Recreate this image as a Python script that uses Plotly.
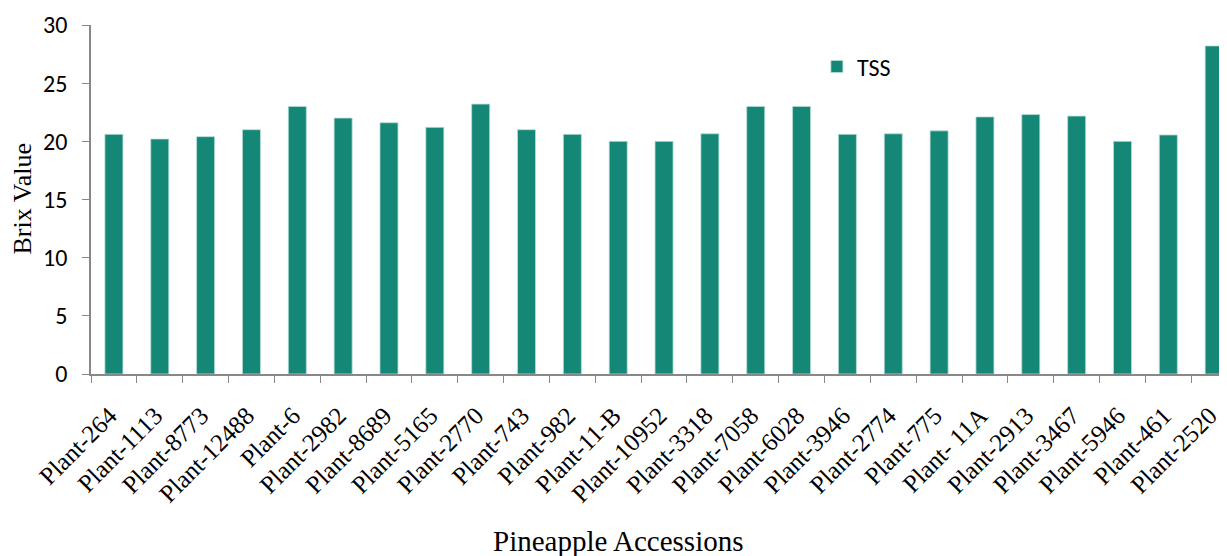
import plotly.graph_objects as go

categories = ["Plant-264", "Plant-1113", "Plant-8773", "Plant-12488", "Plant-6", "Plant-2982",
              "Plant-8689", "Plant-5165", "Plant-2770", "Plant-743", "Plant-982", "Plant-11-B",
              "Plant-10952", "Plant-3318", "Plant-7058", "Plant-6028", "Plant-3946", "Plant-2774",
              "Plant-775", "Plant- 11A", "Plant-2913", "Plant-3467", "Plant-5946", "Plant-461",
              "Plant-2520"]
tss = [20.6, 20.2, 20.4, 21.0, 23.0, 22.0, 21.6, 21.2, 23.2, 21.0, 20.6, 20.0,
       20.0, 20.65, 23.0, 23.0, 20.6, 20.65, 20.9, 22.1, 22.3, 22.17, 20.0, 20.55, 28.2]
y_ticks = [0, 5, 10, 15, 20, 25, 30]

serif = "Liberation Serif, Times New Roman, serif"
sans = "Carlito, Open Sans, sans-serif"

fig = go.Figure()
fig.add_trace(go.Bar(
    x=categories, y=tss, name="TSS",
    marker=dict(color="#148776", line=dict(color="#b8ddd6", width=0.8)),
))

fig.update_layout(
    width=1219, height=548,
    margin=dict(l=83, r=0, t=17, b=182, autoexpand=False),
    plot_bgcolor="white", paper_bgcolor="white",
    bargap=0.607,
    showlegend=True,
    legend=dict(x=0.639, y=0.88, xanchor="left", yanchor="middle",
                font=dict(family=sans, size=24, color="black"),
                bgcolor="rgba(0,0,0,0)", itemwidth=30),
    xaxis=dict(
        type="category",
        range=[-0.5, 24.28],
        tickvals=categories,
        ticktext=[c + "\u00a0" for c in categories],
        tickangle=-45,
        tickson="boundaries",
        ticks="outside", ticklen=7, tickcolor="#888888",
        showline=True, linecolor="#888888", linewidth=1.5,
        tickfont=dict(family=serif, size=25, color="black"),
        ticklabelstandoff=11,
        automargin=False,
        showgrid=False,
    ),
    yaxis=dict(
        range=[0, 30],
        tickvals=y_ticks,
        ticks="outside", ticklen=7, tickcolor="#888888",
        showline=True, linecolor="#888888", linewidth=1.5,
        tickfont=dict(family=sans, size=24, color="black"),
        ticklabelstandoff=10,
        automargin=False,
        showgrid=False, zeroline=False,
    ),
    annotations=[
        dict(text="Pineapple Accessions", xref="paper", yref="paper",
             x=0.4638, y=0, yshift=-167, xanchor="center", yanchor="middle",
             showarrow=False, font=dict(family=serif, size=29, color="black")),
        dict(text="Brix Value", xref="paper", yref="paper",
             x=0, xshift=-69, y=0.5, xanchor="center", yanchor="middle", textangle=-90,
             showarrow=False, font=dict(family=serif, size=26, color="black")),
    ],
)

fig.write_html("out.html")
